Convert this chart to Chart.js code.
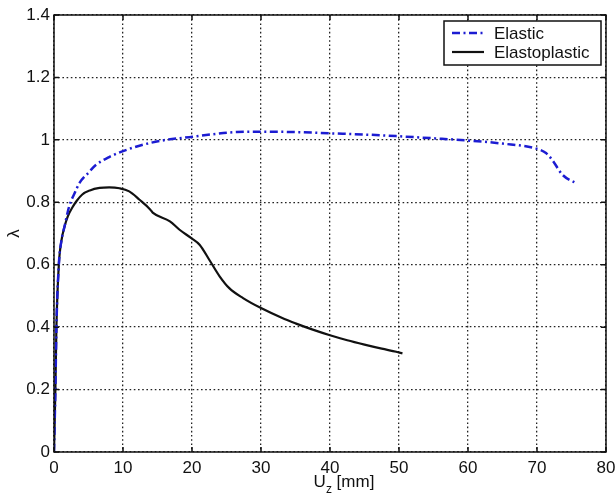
<!DOCTYPE html>
<html>
<head>
<meta charset="utf-8">
<script src="https://cdn.jsdelivr.net/npm/chart.js@4/dist/chart.umd.min.js"></script>
<style>
  html, body { margin: 0; padding: 0; background: #fff; }
  #wrap { width: 616px; height: 499px; position: relative; }
</style>
</head>
<body>
<div id="wrap"><canvas id="lambdaChart"></canvas></div>
<script>
// displacement U_z [mm] and load factor lambda
const elasticU = [0, 0.2, 0.35, 0.7, 1.1, 1.5, 2.2, 3.0, 3.7, 5.0, 6.1, 8.0, 9.9, 12.5, 15.7, 20.1, 23.0, 26.5, 30.0, 35.0, 40.0, 45.0, 49.6, 55.0, 59.9, 65.0, 69.9, 71.3, 72.2, 73.7, 75.7];
const elasticL = [0, 0.2, 0.4, 0.6, 0.68, 0.72, 0.787, 0.83, 0.862, 0.895, 0.92, 0.945, 0.963, 0.982, 0.998, 1.01, 1.018, 1.025, 1.026, 1.025, 1.021, 1.017, 1.012, 1.005, 0.998, 0.988, 0.972, 0.958, 0.936, 0.888, 0.861];

const plasticU = [0, 0.2, 0.35, 0.7, 1.1, 1.5, 2.0, 2.7, 3.3, 4.1, 5.2, 6.6, 8.0, 9.5, 10.9, 12.4, 13.9, 14.3, 16.8, 18.2, 19.9, 21.1, 22.5, 24.0, 25.4, 27.4, 30.0, 33.4, 35.0, 37.5, 40.0, 42.5, 45.0, 47.5, 49.6, 50.5];
const plasticL = [0, 0.2, 0.4, 0.6, 0.68, 0.72, 0.755, 0.785, 0.805, 0.825, 0.838, 0.846, 0.848, 0.845, 0.835, 0.808, 0.778, 0.767, 0.739, 0.712, 0.685, 0.664, 0.616, 0.563, 0.525, 0.493, 0.461, 0.426, 0.412, 0.392, 0.374, 0.358, 0.344, 0.331, 0.321, 0.316];

const seriesNames = ['Elastic', 'Elastoplastic'];
const xTicks = [0, 10, 20, 30, 40, 50, 60, 70, 80];
const yTicks = [0, 0.2, 0.4, 0.6, 0.8, 1, 1.2, 1.4];

const FONT = '"Liberation Sans", Arial, sans-serif';

function toPoints(xs, ys) {
    return xs.map((x, i) => ({ x: x, y: ys[i] }));
}

// box around the plot, ticks pointing inwards, legend, x title with subscript
const matlabFrame = {
    id: 'matlabFrame',
    afterDraw(chart) {
        const ctx = chart.ctx;
        const a = chart.chartArea;
        const xs = chart.scales.x;
        const ys = chart.scales.y;
        ctx.save();
        ctx.strokeStyle = '#111';
        ctx.lineWidth = 1.5;
        ctx.setLineDash([]);
        ctx.strokeRect(a.left, a.top, a.right - a.left, a.bottom - a.top);

        const len = 5;
        ctx.beginPath();
        xTicks.forEach(v => {
            const px = xs.getPixelForValue(v);
            ctx.moveTo(px, a.bottom); ctx.lineTo(px, a.bottom - len);
            ctx.moveTo(px, a.top); ctx.lineTo(px, a.top + len);
        });
        yTicks.forEach(v => {
            const py = ys.getPixelForValue(v);
            ctx.moveTo(a.left, py); ctx.lineTo(a.left + len, py);
            ctx.moveTo(a.right, py); ctx.lineTo(a.right - len, py);
        });
        ctx.stroke();

        // legend
        const bw = 157, bh = 44;
        const bx = a.right - 5 - bw, by = a.top + 6;
        ctx.fillStyle = '#fff';
        ctx.fillRect(bx, by, bw, bh);
        ctx.strokeRect(bx, by, bw, bh);
        ctx.font = '17px ' + FONT;
        ctx.textBaseline = 'middle';
        ctx.textAlign = 'left';
        chart.data.datasets.forEach((ds, i) => {
            const cy = by + 12 + i * 19;
            ctx.strokeStyle = ds.borderColor;
            ctx.lineWidth = ds.borderWidth;
            ctx.setLineDash(ds.borderDash || []);
            ctx.beginPath();
            ctx.moveTo(bx + 8, cy);
            ctx.lineTo(bx + 40, cy);
            ctx.stroke();
            ctx.setLineDash([]);
            ctx.fillStyle = '#111';
            ctx.fillText(ds.label, bx + 50, cy + 1);
        });

        // x axis title: U_z [mm]
        const base = a.bottom + 35;
        ctx.textBaseline = 'alphabetic';
        ctx.fillStyle = '#111';
        ctx.font = '17px ' + FONT;
        const wU = ctx.measureText('U').width;
        const wRest = ctx.measureText(' [mm]').width;
        ctx.font = '12px ' + FONT;
        const wZ = ctx.measureText('z').width;
        let tx = (a.left + a.right) / 2 + 14 - (wU + wZ + wRest) / 2;
        ctx.font = '17px ' + FONT;
        ctx.fillText('U', tx, base);
        tx += wU;
        ctx.font = '12px ' + FONT;
        ctx.fillText('z', tx, base + 6);
        tx += wZ;
        ctx.font = '17px ' + FONT;
        ctx.fillText(' [mm]', tx, base);
        ctx.restore();
    }
};

const ctx = document.getElementById('lambdaChart').getContext('2d');
new Chart(ctx, {
    type: 'line',
    data: {
        datasets: [{
            label: seriesNames[0],
            data: toPoints(elasticU, elasticL),
            borderColor: '#1c1cd2',
            borderWidth: 2.5,
            borderDash: [8, 3.5, 2, 3.5],
            pointRadius: 0,
            cubicInterpolationMode: 'monotone',
            fill: false
        }, {
            label: seriesNames[1],
            data: toPoints(plasticU, plasticL),
            borderColor: '#111111',
            borderWidth: 2.2,
            pointRadius: 0,
            cubicInterpolationMode: 'monotone',
            fill: false
        }]
    },
    options: {
        responsive: true,
        maintainAspectRatio: false,
        animation: false,
        layout: { padding: { top: 15, right: 0, left: 0, bottom: 0 } },
        plugins: {
            legend: { display: false },
            tooltip: { enabled: false }
        },
        scales: {
            x: {
                type: 'linear',
                min: 0,
                max: 80,
                afterBuildTicks: scale => { scale.ticks = xTicks.map(v => ({ value: v })); },
                afterFit: scale => {
                    scale.height = 47;
                    scale.paddingRight = 10;
                    scale.paddingLeft = 0;
                },
                // dotted grid
                border: { display: false, dash: [1.6, 2.6] },
                grid: {
                    color: '#222',
                    lineWidth: 1.3,
                    drawTicks: false
                },
                ticks: {
                    color: '#111',
                    padding: 6,
                    maxRotation: 0,
                    font: { family: FONT, size: 17 }
                }
            },
            y: {
                min: 0,
                max: 1.4,
                afterBuildTicks: scale => { scale.ticks = yTicks.map(v => ({ value: v })); },
                afterFit: scale => { scale.width = 54; },
                border: { display: false, dash: [1.6, 2.6] },
                grid: {
                    color: '#222',
                    lineWidth: 1.3,
                    drawTicks: false
                },
                title: {
                    display: true,
                    text: 'λ',
                    color: '#111',
                    padding: { top: 4, bottom: 0 },
                    font: { family: FONT, size: 17 }
                },
                ticks: {
                    color: '#111',
                    padding: 4,
                    font: { family: FONT, size: 17 },
                    callback: v => String(v)
                }
            }
        }
    },
    plugins: [matlabFrame]
});
</script>
</body>
</html>
